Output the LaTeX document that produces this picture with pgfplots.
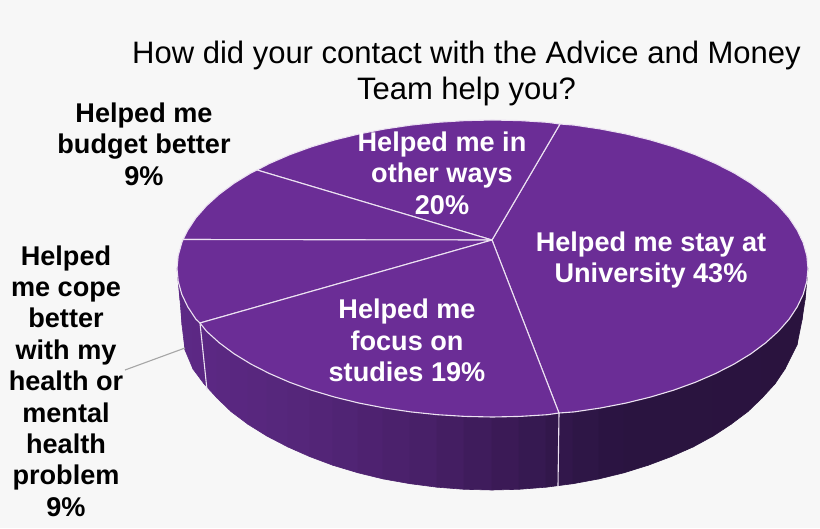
\documentclass[border=0pt]{standalone}
\usepackage{pgfplots}
\usepackage{fontspec}
\setmainfont{Liberation Sans}
\pgfplotsset{compat=1.18}
\usepgfplotslibrary{patchplots}
\definecolor{pagebg}{RGB}{247,247,247}
\definecolor{piepurple}{RGB}{107,45,150}
\definecolor{sliceline}{RGB}{236,226,242}
\pgfplotsset{
    colormap={sidewall}{rgb255(177)=(93,41,134) rgb255(300)=(85,38,122) rgb255(420)=(73,32,105) rgb255(558)=(50,23,75) rgb255(620)=(42,20,64) rgb255(808)=(42,19,62)},
}
\tikzset{slicelabel/.style={inner sep=0pt, align=center, font=\fontsize{27.1}{31.4}\selectfont\bfseries}}
\begin{document}
\begin{tikzpicture}
\begin{axis}[
    scale only axis,
    width=820pt,
    height=528pt,
    xmin=0,
    xmax=820,
    ymin=0,
    ymax=528,
    y dir=reverse,
    hide axis,
    clip=false,
    colormap name=sidewall,
    point meta min=177,
    point meta max=808,
    wedge/.style={fill=piepurple, draw=sliceline, line width=1.1pt, line join=round},
]
% page background
\addplot[fill=pagebg, draw=none] coordinates {(0,0) (820,0) (820,528) (0,528)} -- cycle;

% side wall, dark to the right
\addplot[patch, patch type=rectangle, shader=faceted, faceted color=mapped color, line width=0.6pt, point meta=x, forget plot,
    table/row sep=\\,
    patch table={
0 1 3 2\\ 2 3 5 4\\ 4 5 7 6\\ 6 7 9 8\\ 8 9 11 10\\ 10 11 13 12\\
12 13 15 14\\ 14 15 17 16\\ 16 17 19 18\\ 18 19 21 20\\ 20 21 23 22\\ 22 23 25 24\\
24 25 27 26\\ 26 27 29 28\\ 28 29 31 30\\ 30 31 33 32\\ 32 33 35 34\\ 34 35 37 36\\
36 37 39 38\\ 38 39 41 40\\ 40 41 43 42\\ 42 43 45 44\\ 44 45 47 46\\ 46 47 49 48\\
48 49 51 50\\ 50 51 53 52\\ 52 53 55 54\\ 54 55 57 56\\ 56 57 59 58\\ 58 59 61 60\\
60 61 63 62\\ 62 63 65 64\\ 64 65 67 66\\ 66 67 69 68\\ 68 69 71 70\\ 70 71 73 72\\
72 73 75 74\\ 74 75 77 76\\
}] table {
x y\\
177 268\\ 177 268\\
178 275\\ 178 280\\
180 280\\ 180 300\\
182 280\\ 182 325\\
185 280\\ 185 350\\
193 280\\ 193 369\\
204 280\\ 204 383.8\\
217 280\\ 217 398\\
231 280\\ 231 411.5\\
248 280\\ 248 424.3\\
267 280\\ 267 436.1\\
288 280\\ 288 447\\
310 280\\ 310 456.7\\
333 280\\ 333 465.3\\
358 280\\ 358 472.8\\
383 280\\ 383 478.9\\
410 280\\ 410 483.7\\
437 280\\ 437 487.2\\
464 280\\ 464 489.3\\
492 280\\ 492 490\\
519 280\\ 519 489.3\\
546 280\\ 546 487.2\\
573 280\\ 573 483.7\\
599 280\\ 599 478.9\\
624 280\\ 624 472.8\\
648 280\\ 648 465.3\\
671 280\\ 671 456.7\\
693 280\\ 693 447\\
713 280\\ 713 436.1\\
731 280\\ 731 424.3\\
748 280\\ 748 411.5\\
762 280\\ 762 398\\
775 280\\ 775 383.8\\
785 280\\ 785 369\\
797 280\\ 797 345\\
802 280\\ 802 320\\
805 280\\ 805 300\\
807 275\\ 807 280\\
808 268\\ 808 268\\
};

% slices of the top face
\addplot[wedge] coordinates {(492,240) (559,413) (574.2,411.9) (600.4,408) (625.8,403.1) (650.3,397.1) (673.5,390.2) (695.3,382.3) (715.6,373.5) (734.2,364) (751,353.7) (765.7,342.8) (778.4,331.3) (789,319.3) (797.2,306.9) (803.2,294.3) (806.8,281.4) (808,268.5) (806.8,255.6) (803.2,242.7) (797.2,230.1) (789,217.7) (778.4,205.7) (765.7,194.2) (751,183.3) (734.2,173) (715.6,163.5) (695.3,154.7) (673.5,146.8) (650.3,139.9) (625.8,133.9) (600.4,129) (574.2,125.1) (560,124)} -- cycle;
\addplot[wedge] coordinates {(492,240) (560,124) (547.3,122.3) (520,120.6) (492.5,120) (465,120.6) (437.7,122.3) (410.8,125.1) (384.6,129) (359.2,133.9) (334.7,139.9) (311.5,146.8) (289.7,154.7) (269.4,163.5) (257,170)} -- cycle;
\addplot[wedge] coordinates {(492,240) (257,170) (250.8,173) (234,183.3) (219.3,194.2) (206.6,205.7) (196,217.7) (187.8,230.1) (183,239.5)} -- cycle;
\addplot[wedge] coordinates {(492,240) (183,239.5) (181.8,242.7) (178.2,255.6) (177,268.5) (178.2,281.4) (181.8,294.3) (187.8,306.9) (196,319.3) (200,323)} -- cycle;
\addplot[wedge] coordinates {(492,240) (200,323) (206.6,331.3) (219.3,342.8) (234,353.7) (250.8,364) (269.4,373.5) (289.7,382.3) (311.5,390.2) (334.7,397.1) (359.2,403.1) (384.6,408) (410.8,411.9) (437.7,414.7) (465,416.4) (492.5,417) (520,416.4) (547.3,414.7) (559,413)} -- cycle;

% dividers on the side wall and the leader line
\addplot[sliceline, line width=1.1pt] coordinates {(200,323) (207,390)};
\addplot[sliceline, line width=1.1pt] coordinates {(559,413) (558,486)};
\addplot[black!35, line width=1.1pt] coordinates {(185,348) (125,370)};

\node[align=center, inner sep=0pt, font=\fontsize{31}{36}\selectfont] at (axis cs:466.5,73) {How did your contact with the Advice and Money\\Team help you?};
\node[slicelabel, text=white] at (axis cs:442,173) {Helped me in\\other ways\\20\%};
\node[slicelabel, text=white] at (axis cs:651,260) {Helped me stay at\\University 43\%};
\node[slicelabel, text=white] at (axis cs:407,340.5) {Helped me\\focus on\\studies 19\%};
\node[slicelabel, text=black] at (axis cs:144,144) {Helped me\\budget better\\9\%};
\node[slicelabel, text=black] at (axis cs:66,381) {Helped\\me cope\\better\\with my\\health or\\mental\\health\\problem\\9\%};
\end{axis}
\end{tikzpicture}
\end{document}
